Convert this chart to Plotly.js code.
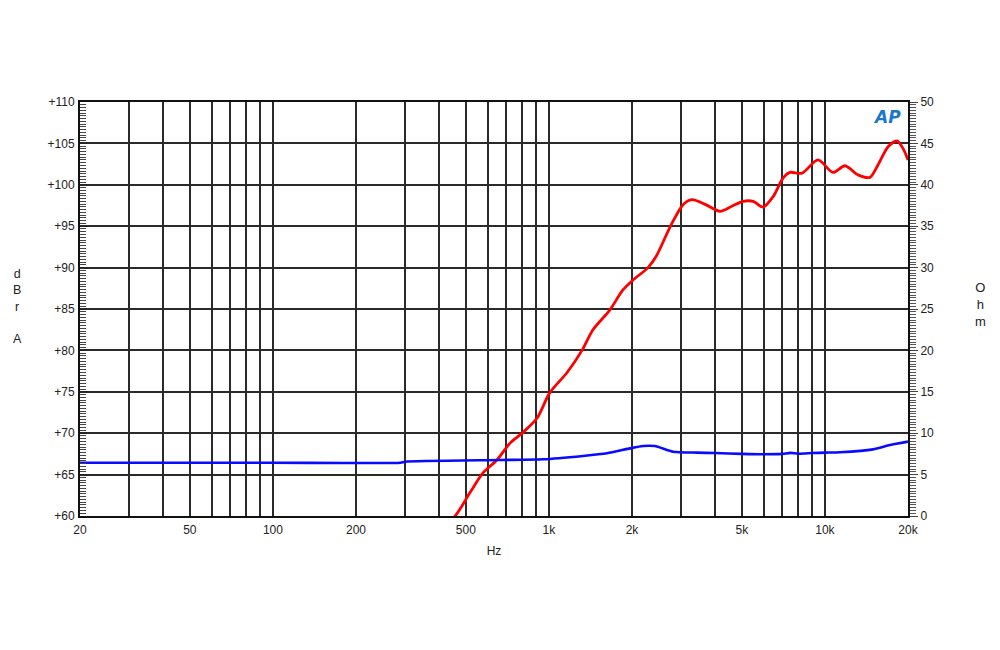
<!DOCTYPE html>
<html>
<head>
<meta charset="utf-8">
<script src="https://cdn.plot.ly/plotly-3.0.1.min.js"></script>
<style>html,body{margin:0;padding:0;background:#fff;}#chart{width:1000px;height:650px;}</style>
</head>
<body>
<div id="chart"></div>
<script>
// Frequency response (dBr A, left axis)
const splFreq = [400, 457, 517, 577, 649, 723, 806, 905, 1008, 1162, 1318, 1444, 1664, 1854, 2017, 2286, 2460, 2747, 3062, 3296, 3700, 4168, 4600, 5047, 5500, 5969, 6500, 7050, 7466, 8260, 9440, 10700, 11820, 13180, 14560, 15570, 16940, 18240, 19180, 20000];
const splDb   = [58.5, 60.0, 62.8, 65.2, 66.8, 68.8, 70.1, 71.8, 74.9, 77.3, 80.0, 82.5, 84.9, 87.3, 88.5, 90.0, 91.5, 94.9, 97.6, 98.2, 97.6, 96.8, 97.4, 98.0, 98.0, 97.3, 98.6, 100.8, 101.5, 101.4, 103.0, 101.5, 102.3, 101.2, 100.9, 102.4, 104.6, 105.3, 104.4, 103.0];

// Impedance (Ohm, right axis)
const impFreq = [20, 100, 290, 301, 665, 952, 1328, 1624, 1968, 2192, 2420, 2818, 3440, 4000, 5000, 6000, 7000, 7500, 8000, 9000, 10000, 11340, 14940, 17200, 20000];
const impOhm  = [6.44, 6.44, 6.44, 6.56, 6.76, 6.85, 7.25, 7.57, 8.17, 8.45, 8.45, 7.77, 7.65, 7.6, 7.5, 7.45, 7.5, 7.62, 7.52, 7.6, 7.65, 7.7, 8.05, 8.57, 8.98];

// X tick positions and labels
const xTickVals = [20,30,40,50,60,70,80,90,100,200,300,400,500,600,700,800,900,1000,2000,3000,4000,5000,6000,7000,8000,9000,10000,20000];
const xTickText = ["20","","","50","","","","","100","200","","","500","","","","","1k","2k","","","5k","","","","","10k","20k"];

const font = {family: "Liberation Sans, Arial, sans-serif", size: 12, color: "#222"};

const traces = [
  {x: impFreq, y: impOhm, yaxis: "y2", type: "scatter", mode: "lines",
   line: {color: "#0a0aff", width: 2.6, shape: "spline", smoothing: 0.6}, hoverinfo: "skip"},
  {x: splFreq, y: splDb, type: "scatter", mode: "lines",
   line: {color: "#ff0000", width: 2.8, shape: "spline", smoothing: 0.8}, hoverinfo: "skip"}
];

const layout = {
  width: 1000, height: 650,
  margin: {l: 80, r: 92, t: 102, b: 134},
  paper_bgcolor: "#fff", plot_bgcolor: "#fff",
  showlegend: false,
  font: font,
  xaxis: {
    type: "log", range: [Math.log10(20), Math.log10(20000)],
    tickmode: "array", tickvals: xTickVals, ticktext: xTickText,
    showgrid: true, gridcolor: "#2a2a2a", gridwidth: 2,
    showline: true, linecolor: "#111", linewidth: 2, mirror: true,
    ticks: "", ticklabelstandoff: 2,
    tickfont: font, zeroline: false,
    title: {text: "Hz", font: font, standoff: 10}
  },
  yaxis: {
    range: [60, 110], tickmode: "linear", tick0: 60, dtick: 5,
    tickprefix: "+", showgrid: true, gridcolor: "#2a2a2a", gridwidth: 2,
    showline: true, linecolor: "#111", linewidth: 2, mirror: false,
    ticks: "inside", ticklen: 7, tickcolor: "#222",
    minor: {dtick: 5/15, tick0: 60, ticks: "inside", ticklen: 6, tickcolor: "#444", showgrid: false},
    tickfont: font, zeroline: false, ticklabelstandoff: 1
  },
  yaxis2: {
    overlaying: "y", side: "right",
    range: [0, 50], tickmode: "linear", tick0: 0, dtick: 5,
    showgrid: false, showline: true, linecolor: "#111", linewidth: 2,
    ticks: "outside", ticklen: 8, tickcolor: "#444",
    minor: {dtick: 5/15, tick0: 0, ticks: "outside", ticklen: 6, tickcolor: "#555", showgrid: false},
    tickfont: font, zeroline: false
  },
  annotations: [
    {text: "d<br>B<br>r<br><br>A", xref: "paper", yref: "paper", x: -0.075, y: 0.607, xanchor: "center", yanchor: "top",
     showarrow: false, font: {family: font.family, size: 12.5, color: "#222"}, align: "center"},
    {text: "O<br>h<br>m", xref: "paper", yref: "paper", x: 1.088, y: 0.575, xanchor: "center", yanchor: "top",
     showarrow: false, font: {family: font.family, size: 13, color: "#222"}, align: "center"},
    {text: "<b><i>AP</i></b>", xref: "paper", yref: "paper", x: 0.975, y: 0.963, xanchor: "center", yanchor: "middle",
     showarrow: false, font: {family: "DejaVu Sans, sans-serif", size: 17, color: "#1a78c8"}}
  ]
};

Plotly.newPlot("chart", traces, layout, {staticPlot: true, displayModeBar: false});
</script>
</body>
</html>
